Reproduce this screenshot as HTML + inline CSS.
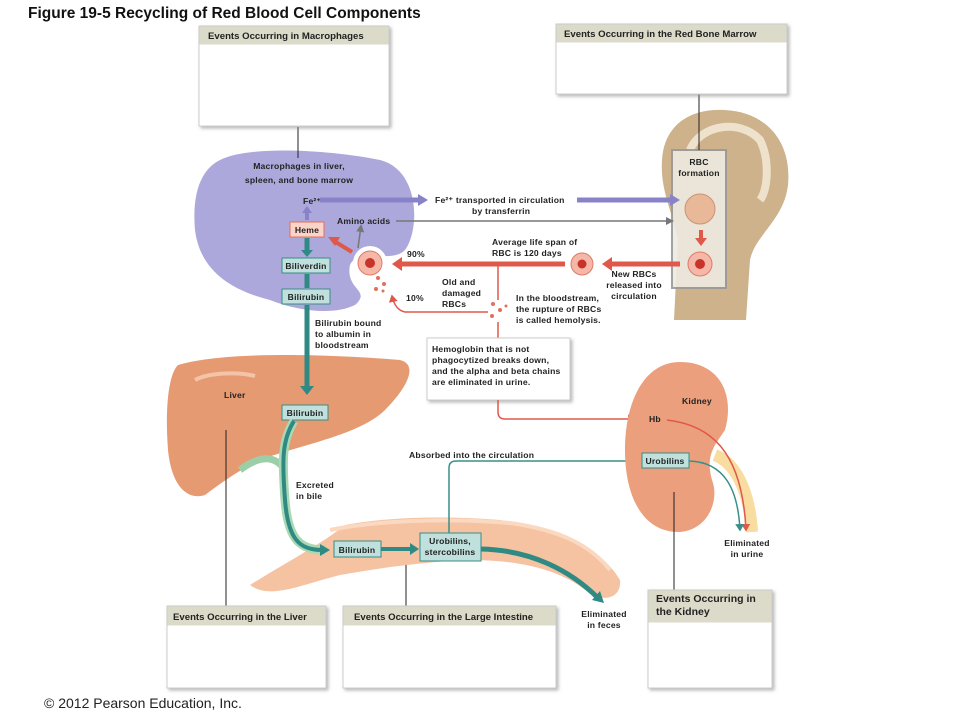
<!DOCTYPE html>
<html><head><meta charset="utf-8"><style>
html,body{margin:0;padding:0;background:#fff;}
svg{display:block;font-family:"Liberation Sans",sans-serif;}
.l{font-weight:bold;font-size:8.6px;letter-spacing:0.2px;fill:#222;}
.h{font-size:10.5px;fill:#222;}
</style></head><body>
<svg width="960" height="720" viewBox="0 0 960 720" xmlns="http://www.w3.org/2000/svg">
<defs>
<marker id="ab" markerWidth="6" markerHeight="6" refX="4" refY="3" orient="auto" markerUnits="strokeWidth"><path d="M0,0 L5,3 L0,6 z" fill="#3a8f88"/></marker>
<marker id="ar" markerWidth="6" markerHeight="6" refX="4" refY="3" orient="auto" markerUnits="strokeWidth"><path d="M0,0 L5,3 L0,6 z" fill="#e0584a"/></marker>
<marker id="ag" markerWidth="8" markerHeight="8" refX="6" refY="4" orient="auto" markerUnits="userSpaceOnUse"><path d="M0,0 L8,4 L0,8 z" fill="#777"/></marker>
<filter id="sh"><feDropShadow dx="2" dy="2" stdDeviation="1.5" flood-color="#888" flood-opacity="0.6"/></filter>
</defs>
<text x="28" y="18" font-size="15.5" font-weight="bold" fill="#111">Figure 19-5  Recycling of Red Blood Cell Components</text>

<!-- bone -->
<path d="M674,320 L678,240 C672,210 660,190 662,160 C664,125 690,108 725,110 C765,112 792,140 788,185 C784,220 755,235 750,260 L746,320 Z" fill="#cdb28c"/>
<path d="M690,150 C700,125 740,118 760,140 C770,160 768,190 760,200" fill="none" stroke="#eee2cc" stroke-width="8"/>
<rect x="672" y="150" width="54" height="138" fill="#eeeae2" stroke="#999" stroke-width="2" opacity="0.9"/>
<text x="699" y="165" class="l" text-anchor="middle">RBC</text>
<text x="699" y="176" class="l" text-anchor="middle">formation</text>
<circle cx="700" cy="209" r="15" fill="#e8b898" stroke="#c89474"/>
<path d="M701,230 v10" stroke="#e0584a" stroke-width="4"/><path d="M695,238 h12 l-6,8z" fill="#e0584a"/>
<circle cx="700" cy="264" r="12" fill="#f5b8a8" stroke="#e07a66"/><circle cx="700" cy="264" r="5" fill="#c8342a"/>
<line x1="699" y1="93" x2="699" y2="150" stroke="#222"/>

<!-- macrophage -->
<path d="M220,160 C250,145 330,150 380,160 C420,170 420,230 405,250 C390,265 360,245 350,265 C345,290 372,290 355,305 C335,315 300,312 270,300 C230,290 200,270 195,230 C192,195 200,170 220,160 Z" fill="#aca8dc"/>
<circle cx="370" cy="263" r="17" fill="#fff"/>
<circle cx="370" cy="263" r="12" fill="#f5b8a8" stroke="#e07a66"/><circle cx="370" cy="263" r="5" fill="#c8342a"/>
<g fill="#e0705a"><circle cx="378" cy="278" r="2"/><circle cx="384" cy="284" r="2"/><circle cx="376" cy="289" r="2"/><circle cx="383" cy="291" r="1.5"/></g>
<line x1="298" y1="127" x2="298" y2="158" stroke="#222"/>
<text x="299" y="169" class="l" font-size="10" text-anchor="middle">Macrophages in liver,</text>
<text x="299" y="183" class="l" font-size="10" text-anchor="middle">spleen, and bone marrow</text>
<text x="303" y="204" class="l" font-size="7.5">Fe²⁺</text>
<path d="M307,220 v-8" stroke="#8883c8" stroke-width="4"/><path d="M302,213 l5,-7 l5,7z" fill="#8883c8"/>
<rect x="290" y="222" width="34" height="15" fill="#fbd3c8" stroke="#e0705a"/><text x="307" y="233" class="l" text-anchor="middle">Heme</text>
<path d="M307,238 v15" stroke="#2f8a84" stroke-width="5"/><path d="M301,250 h12 l-6,7z" fill="#2f8a84"/>
<rect x="282" y="258" width="48" height="15" fill="#bfe0dc" stroke="#3a8c86"/><text x="306" y="269" class="l" text-anchor="middle">Biliverdin</text>
<path d="M307,274 v14" stroke="#2f8a84" stroke-width="5"/>
<rect x="282" y="289" width="48" height="15" fill="#bfe0dc" stroke="#3a8c86"/><text x="306" y="300" class="l" text-anchor="middle">Bilirubin</text>
<path d="M352,252 L334,241" stroke="#e0584a" stroke-width="4"/><path d="M328,237 l12,0 l-5,9z" fill="#e0584a"/>
<path d="M358,248 l3,-22" stroke="#777" stroke-width="1.5" marker-end="url(#ag)"/>
<text x="337" y="224" class="l">Amino acids</text>
<line x1="396" y1="221" x2="672" y2="221" stroke="#777" stroke-width="1.5" marker-end="url(#ag)"/>
<path d="M320,200 H420" stroke="#8883c8" stroke-width="5"/><path d="M418,194 l10,6 l-10,6z" fill="#8883c8"/>
<text x="435" y="203" class="l">Fe²⁺ transported in circulation</text>
<text x="472" y="214" class="l">by transferrin</text>
<path d="M577,200 H672" stroke="#8883c8" stroke-width="5"/><path d="M670,194 l10,6 l-10,6z" fill="#8883c8"/>

<!-- red flow -->
<path d="M680,264 H610" stroke="#e0584a" stroke-width="5"/><path d="M612,257 l-10,7 l10,7z" fill="#e0584a"/>
<circle cx="582" cy="264" r="11" fill="#f5b8a8" stroke="#e07a66"/><circle cx="582" cy="264" r="4.5" fill="#c8342a"/>
<path d="M565,264 H400" stroke="#e0584a" stroke-width="5"/><path d="M402,257 l-10,7 l10,7z" fill="#e0584a"/>
<text x="407" y="257" class="l">90%</text>
<text x="492" y="245" class="l">Average life span of</text>
<text x="492" y="256" class="l">RBC is 120 days</text>
<text x="634" y="277" class="l" text-anchor="middle">New RBCs</text>
<text x="634" y="288" class="l" text-anchor="middle">released into</text>
<text x="634" y="299" class="l" text-anchor="middle">circulation</text>
<line x1="498" y1="266" x2="498" y2="300" stroke="#e0584a" stroke-width="1.5"/>
<path d="M488,312 H405 Q395,310 392,296" fill="none" stroke="#e0584a" stroke-width="1.5" marker-end="url(#ar)"/>
<g fill="#e0705a"><circle cx="493" cy="304" r="2"/><circle cx="500" cy="310" r="2"/><circle cx="492" cy="316" r="2"/><circle cx="506" cy="306" r="1.5"/></g>
<text x="406" y="301" class="l">10%</text>
<text x="442" y="285" class="l">Old and</text>
<text x="442" y="296" class="l">damaged</text>
<text x="442" y="307" class="l">RBCs</text>
<text x="516" y="301" class="l">In the bloodstream,</text>
<text x="516" y="312" class="l">the rupture of RBCs</text>
<text x="516" y="323" class="l">is called hemolysis.</text>
<line x1="498" y1="322" x2="498" y2="338" stroke="#e0584a" stroke-width="1.5"/>
<rect x="427" y="338" width="143" height="62" fill="#fff" stroke="#ccc" filter="url(#sh)"/>
<text x="432" y="352" class="l">Hemoglobin that is not</text>
<text x="432" y="363" class="l">phagocytized breaks down,</text>
<text x="432" y="374" class="l">and the alpha and beta chains</text>
<text x="432" y="385" class="l">are eliminated in urine.</text>
<path d="M498,400 V412 Q498,419 505,419 H634" fill="none" stroke="#e0584a" stroke-width="1.5" marker-end="url(#ar)"/>

<!-- liver -->
<path d="M178,365 C230,350 340,355 400,360 C420,365 405,390 385,410 C360,435 300,445 260,460 C240,470 225,480 205,495 C190,500 172,490 168,450 C165,410 168,375 178,365 Z" fill="#e59a72"/>
<path d="M195,380 C210,372 240,372 255,376" stroke="#f4c4a8" stroke-width="4" fill="none"/>
<text x="224" y="398" class="l">Liver</text>
<line x1="226" y1="430" x2="226" y2="606" stroke="#222"/>
<path d="M240,470 C260,455 275,455 285,470" fill="none" stroke="#9ccfa8" stroke-width="7"/>
<!-- intestine -->
<path d="M250,585 C290,560 320,545 345,525 C380,518 440,515 500,520 C550,528 600,545 620,580 C622,600 600,603 585,590 C560,570 520,560 470,560 C420,562 380,568 340,575 C300,585 270,600 250,585 Z" fill="#f5c2a2"/>
<path d="M330,530 C380,520 450,518 510,523 C560,530 590,545 610,570" fill="none" stroke="#fbd8c0" stroke-width="4"/>
<line x1="406" y1="565" x2="406" y2="606" stroke="#222"/>
<path d="M307,305 V388" stroke="#2f8a84" stroke-width="5"/><path d="M300,386 h14 l-7,9z" fill="#2f8a84"/>
<text x="315" y="326" class="l">Bilirubin bound</text>
<text x="315" y="337" class="l">to albumin in</text>
<text x="315" y="348" class="l">bloodstream</text>
<rect x="282" y="405" width="46" height="15" fill="#bfe0dc" stroke="#3a8c86"/><text x="305" y="416" class="l" text-anchor="middle">Bilirubin</text>
<path d="M294,421 C282,440 282,460 285,500 C288,540 300,550 325,550" fill="none" stroke="#a8d8b4" stroke-width="9"/>
<path d="M294,421 C282,440 282,460 285,500 C288,540 300,550 322,550" fill="none" stroke="#2f8a84" stroke-width="4"/><path d="M320,544 l10,6 l-10,6z" fill="#2f8a84"/>
<text x="296" y="488" class="l">Excreted</text>
<text x="296" y="499" class="l">in bile</text>
<rect x="334" y="541" width="47" height="16" fill="#bfe0dc" stroke="#3a8c86"/><text x="357" y="553" class="l" text-anchor="middle">Bilirubin</text>
<path d="M381,549 H412" stroke="#2f8a84" stroke-width="4"/><path d="M410,543 l9,6 l-9,6z" fill="#2f8a84"/>
<rect x="420" y="533" width="61" height="28" fill="#bfe0dc" stroke="#3a8c86"/>
<text x="450" y="544" class="l" text-anchor="middle">Urobilins,</text><text x="450" y="555" class="l" text-anchor="middle">stercobilins</text>
<path d="M481,549 C530,550 570,570 598,598" fill="none" stroke="#2f8a84" stroke-width="5"/><path d="M592,600 l12,3 l-4,-12z" fill="#2f8a84"/>
<text x="604" y="617" class="l" text-anchor="middle">Eliminated</text>
<text x="604" y="628" class="l" text-anchor="middle">in feces</text>
<path d="M449,533 V468 Q449,461 456,461 H634" fill="none" stroke="#3a8f88" stroke-width="1.5" marker-end="url(#ab)"/>
<text x="409" y="458" class="l">Absorbed into the circulation</text>

<!-- kidney -->
<path d="M680,362 C720,362 735,395 725,430 C715,445 705,455 712,480 C720,500 708,530 680,532 C645,533 625,500 625,450 C625,400 645,362 680,362 Z" fill="#eb9f7c"/>
<path d="M715,455 C740,465 750,500 752,532" fill="none" stroke="#f8dca0" stroke-width="12"/>
<text x="682" y="404" class="l">Kidney</text>
<text x="649" y="422" class="l">Hb</text>
<path d="M667,420 C710,425 742,450 746,530" fill="none" stroke="#e0584a" stroke-width="1.5" marker-end="url(#ar)"/>
<rect x="642" y="453" width="47" height="15" fill="#bfe0dc" stroke="#3a8c86"/><text x="665" y="464" class="l" text-anchor="middle">Urobilins</text>
<path d="M689,461 C725,462 738,490 740,530" fill="none" stroke="#3a8f88" stroke-width="1.5" marker-end="url(#ab)"/>
<text x="747" y="546" class="l" text-anchor="middle">Eliminated</text>
<text x="747" y="557" class="l" text-anchor="middle">in urine</text>
<line x1="674" y1="492" x2="674" y2="590" stroke="#222"/>

<!-- event boxes -->
<g filter="url(#sh)">
<rect x="199" y="26" width="190" height="100" fill="#fff" stroke="#ccc"/>
<rect x="556" y="24" width="231" height="70" fill="#fff" stroke="#ccc"/>
<rect x="167" y="606" width="159" height="82" fill="#fff" stroke="#ccc"/>
<rect x="343" y="606" width="213" height="82" fill="#fff" stroke="#ccc"/>
<rect x="648" y="590" width="124" height="98" fill="#fff" stroke="#ccc"/>
</g>
<g fill="#dcdac8">
<rect x="199.5" y="26.5" width="189" height="18"/>
<rect x="556.5" y="24.5" width="230" height="18"/>
<rect x="167.5" y="606.5" width="158" height="19"/>
<rect x="343.5" y="606.5" width="212" height="19"/>
<rect x="648.5" y="590.5" width="123" height="32"/>
</g>
<g class="h" font-weight="bold" font-size="9.6">
<text x="208" y="39" font-size="9.6">Events Occurring in Macrophages</text>
<text x="564" y="37" font-size="9.6">Events Occurring in the Red Bone Marrow</text>
<text x="173" y="620" font-size="9.6">Events Occurring in the Liver</text>
<text x="354" y="620" font-size="9.6">Events Occurring in the Large Intestine</text>
<text x="656" y="602" font-size="10.5">Events Occurring in</text>
<text x="656" y="615" font-size="10.5">the Kidney</text>
</g>
<text x="44" y="708" font-size="14" fill="#222">© 2012 Pearson Education, Inc.</text>
</svg>
</body></html>
